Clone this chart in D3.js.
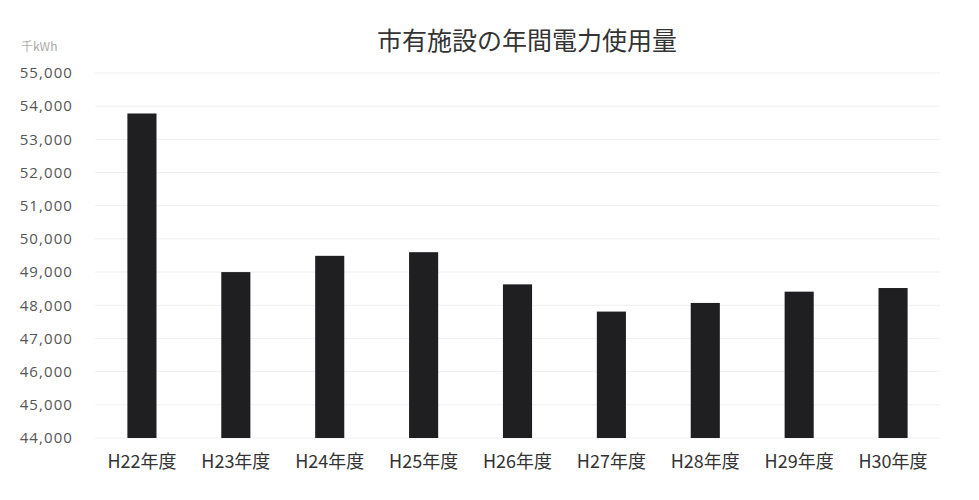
<!DOCTYPE html>
<html><head><meta charset="utf-8">
<script src="https://cdn.jsdelivr.net/npm/d3@7"></script>
<style>body{margin:0;background:#fff}svg{display:block}</style>
</head><body>
<script>
const categories = ["H22年度","H23年度","H24年度","H25年度","H26年度","H27年度","H28年度","H29年度","H30年度"];
const values = [53780, 49000, 49490, 49600, 48630, 47810, 48070, 48410, 48520];
const yTicks = [44000,45000,46000,47000,48000,49000,50000,51000,52000,53000,54000,55000];
const title = "市有施設の年間電力使用量";
const unit = "千kWh";

const W = 979, H = 500;
const m = {left: 95, right: 39, top: 73, bottom: 62};
const svg = d3.select("body").append("svg").attr("width", W).attr("height", H);
const font = "'Noto Sans CJK JP','Noto Sans',sans-serif";

const x = d3.scaleBand().domain(categories).range([m.left, W - m.right]).paddingInner(0.69).paddingOuter(0.345);
const y = d3.scaleLinear().domain([44000, 55000]).range([H - m.bottom, m.top]);

// gridlines
svg.append("g").selectAll("line").data(yTicks).join("line")
  .attr("x1", m.left).attr("x2", W - m.right)
  .attr("y1", d => y(d)).attr("y2", d => y(d))
  .attr("stroke", "#efefef").attr("stroke-width", 1);

// y axis
const yAxis = svg.append("g").attr("transform", `translate(73,0)`)
  .call(d3.axisLeft(y).tickValues(yTicks).tickSize(0).tickPadding(0).tickFormat(d3.format(",")));
yAxis.select(".domain").remove();
yAxis.selectAll("text").attr("fill", "#555")
  .style("font-family", "'Open Sans','Noto Sans',sans-serif").style("font-size", "15px")
  .style("letter-spacing", "1.1px");

// bars
svg.append("g").selectAll("rect").data(values).join("rect")
  .attr("x", (d, i) => x(categories[i]))
  .attr("width", x.bandwidth())
  .attr("y", d => y(d))
  .attr("height", d => y(44000) - y(d))
  .attr("fill", "#1f1f22");

// x axis
const xAxis = svg.append("g").attr("transform", `translate(0,${H - m.bottom})`)
  .call(d3.axisBottom(x).tickSize(0));
xAxis.select(".domain").remove();
xAxis.selectAll("text").attr("y", 30).attr("dy", null).attr("fill", "#333")
  .style("font-family", font).style("font-size", "18px");

// title
svg.append("text").attr("x", 527).attr("y", 50).attr("text-anchor", "middle")
  .attr("fill", "#333").style("font-family", font).style("font-size", "25px").text(title);

// unit
svg.append("text").attr("x", 21).attr("y", 51)
  .attr("fill", "#aaa").style("font-family", font).style("font-size", "12px").text(unit);
</script>
</body></html>
